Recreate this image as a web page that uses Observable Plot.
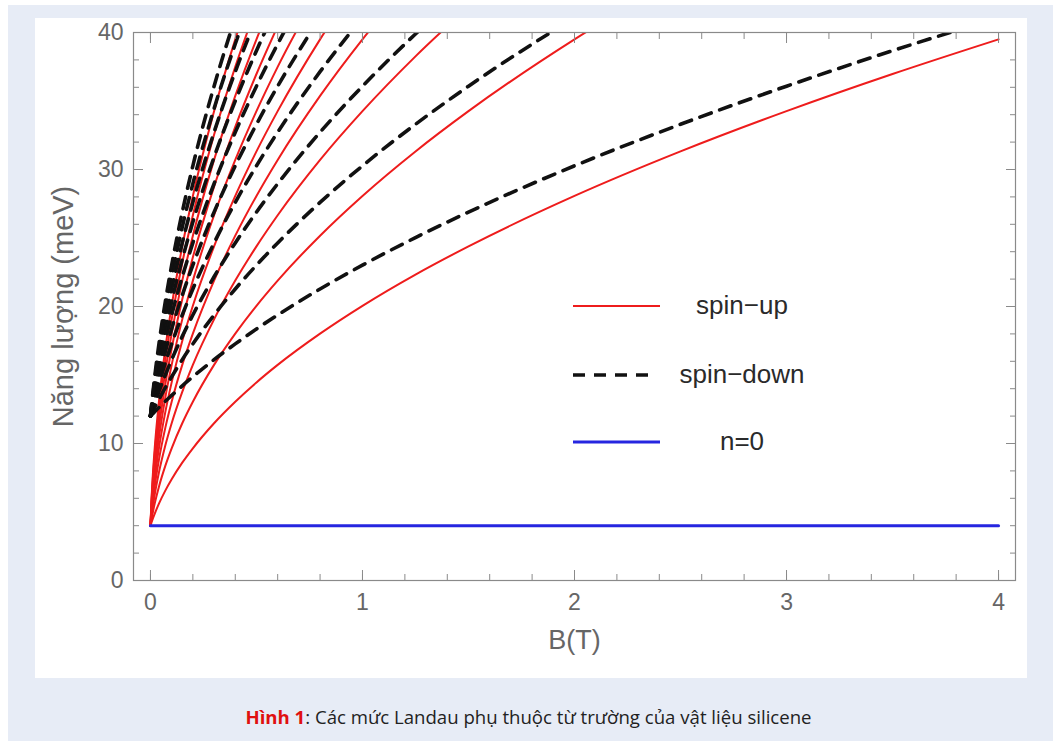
<!DOCTYPE html>
<html>
<head>
<meta charset="utf-8">
<script src="https://cdn.jsdelivr.net/npm/d3@7"></script>
<script src="https://cdn.jsdelivr.net/npm/@observablehq/plot@0.6"></script>
<style>
  html, body { margin: 0; padding: 0; }
  body { width: 1057px; height: 741px; position: relative; overflow: hidden; background: #fff; font-family: "Liberation Sans", Arial, sans-serif; }
  #bg { position: absolute; left: 8px; top: 5px; width: 1045px; height: 736px; background: #e7ecf6; }
  #panel { position: absolute; left: 35px; top: 18px; width: 992px; height: 660px; background: #fff; }
  #legend { position: absolute; left: 0; top: 0; pointer-events: none; }
  #caption { position: absolute; left: 0; top: 705px; width: 1057px; text-align: center; font-family: "Open Sans", sans-serif; font-size: 18.6px; color: #222; line-height: 24px; }
  #caption b { color: #e01010; }
</style>
</head>
<body>
<div id="bg"></div>
<div id="panel"></div>
<svg id="legend" width="1057" height="741"></svg>
<div id="caption"><b>Hình 1</b>: Các mức Landau phụ thuộc từ trường của vật liệu silicene</div>
<script>
// Magnetic field samples B (T)
const bField = [0, 0.005, 0.01, 0.02, 0.04, 0.07, 0.1, 0.15, 0.2, 0.3, 0.4, 0.5, 0.6, 0.8, 1.0, 1.25, 1.5, 2.0, 2.5, 3.0, 3.5, 4.0];

// Spin-up Landau levels n = 1..10 (meV), read at the bField samples
const up1  = [4.0, 4.23, 4.46, 4.87, 5.61, 6.56, 7.39, 8.60, 9.65, 11.48, 13.05, 14.46, 15.74, 18.02, 20.05, 22.33, 24.39, 28.07, 31.32, 34.26, 36.97, 39.50];
const up2  = [4.0, 4.46, 4.87, 5.61, 6.85, 8.37, 9.65, 11.48, 13.05, 15.74, 18.02, 20.05, 21.89, 25.17, 28.07, 31.32, 34.26, 39.50, 44.11];
const up3  = [4.0, 4.67, 5.25, 6.26, 7.89, 9.85, 11.48, 13.77, 15.74, 19.06, 21.89, 24.39, 26.66, 30.70, 34.26, 38.26, 41.87];
const up4  = [4.0, 4.87, 5.61, 6.85, 8.82, 11.14, 13.05, 15.74, 18.02, 21.89, 25.17, 28.07, 30.70, 35.37, 39.50, 44.11];
const up5  = [4.0, 5.06, 5.94, 7.39, 9.65, 12.29, 14.46, 17.48, 20.05, 24.39, 28.07, 31.32, 34.26, 39.50, 44.11];
const up6  = [4.0, 5.25, 6.26, 7.89, 10.42, 13.35, 15.74, 19.06, 21.89, 26.66, 30.70, 34.26, 37.49, 43.23];
const up7  = [4.0, 5.43, 6.56, 8.37, 11.14, 14.32, 16.92, 20.53, 23.59, 28.75, 33.12, 36.97, 40.46];
const up8  = [4.0, 5.61, 6.85, 8.82, 11.81, 15.24, 18.02, 21.89, 25.17, 30.70, 35.37, 39.50, 43.23];
const up9  = [4.0, 5.78, 7.12, 9.25, 12.45, 16.10, 19.06, 23.18, 26.66, 32.53, 37.49, 41.87];
const up10 = [4.0, 5.94, 7.39, 9.65, 13.05, 16.92, 20.05, 24.39, 28.07, 34.26, 39.50, 44.11];

// Spin-down Landau levels n = 1..10 (meV)
const down1  = [12.0, 12.08, 12.16, 12.32, 12.63, 13.08, 13.51, 14.21, 14.87, 16.12, 17.27, 18.36, 19.38, 21.28, 23.02, 25.03, 26.89, 30.27, 33.30, 36.08, 38.67, 41.09];
const down2  = [12.0, 12.16, 12.32, 12.63, 13.22, 14.07, 14.87, 16.12, 17.27, 19.38, 21.28, 23.02, 24.64, 27.60, 30.27, 33.30, 36.08, 41.09];
const down3  = [12.0, 12.24, 12.47, 12.93, 13.80, 15.00, 16.12, 17.82, 19.38, 22.17, 24.64, 26.89, 28.96, 32.72, 36.08, 39.89, 43.37];
const down4  = [12.0, 12.32, 12.63, 13.22, 14.34, 15.88, 17.27, 19.38, 21.28, 24.64, 27.60, 30.27, 32.72, 37.14, 41.09];
const down5  = [12.0, 12.40, 12.78, 13.51, 14.87, 16.71, 18.36, 20.82, 23.02, 26.89, 30.27, 33.30, 36.08, 41.09];
const down6  = [12.0, 12.47, 12.93, 13.80, 15.38, 17.50, 19.38, 22.17, 24.64, 28.96, 32.72, 36.08, 39.16, 44.69];
const down7  = [12.0, 12.55, 13.08, 14.07, 15.88, 18.25, 20.35, 23.44, 26.16, 30.90, 35.00, 38.67, 42.01];
const down8  = [12.0, 12.63, 13.22, 14.34, 16.36, 18.98, 21.28, 24.64, 27.60, 32.72, 37.14, 41.09];
const down9  = [12.0, 12.70, 13.37, 14.61, 16.82, 19.68, 22.17, 25.79, 28.96, 34.44, 39.16, 43.37];
const down10 = [12.0, 12.78, 13.51, 14.87, 17.27, 20.35, 23.02, 26.89, 30.27, 36.08, 41.09];

// n = 0 level
const n0Field  = [0, 4];
const n0Energy = [4, 4];

// Ticks
const majorX = [0, 1, 2, 3, 4];
const minorX = [0, 0.2, 0.4, 0.6, 0.8, 1, 1.2, 1.4, 1.6, 1.8, 2, 2.2, 2.4, 2.6, 2.8, 3, 3.2, 3.4, 3.6, 3.8, 4];
const majorY = [0, 10, 20, 30, 40];
const minorY = [0, 2, 4, 6, 8, 10, 12, 14, 16, 18, 20, 22, 24, 26, 28, 30, 32, 34, 36, 38, 40];

const xLabel = "B(T)";
const yLabel = "Năng lượng (meV)";
const legendLabels = ["spin−up", "spin−down", "n=0"];

const upSeries = [up1, up2, up3, up4, up5, up6, up7, up8, up9, up10];
const downSeries = [down1, down2, down3, down4, down5, down6, down7, down8, down9, down10];

function toRows(series) {
  const rows = [];
  series.forEach((vals, k) => vals.forEach((e, i) => rows.push({B: bField[i], E: e, n: k + 1})));
  return rows;
}
const upRows = toRows(upSeries);
const downRows = toRows(downSeries);
const n0Rows = n0Field.map((b, i) => ({B: b, E: n0Energy[i]}));

const tickColor = "#8a8a8a";
const labelColor = "#666";
const plain = d => String(d);

const chart = Plot.plot({
  width: 992,
  height: 660,
  marginLeft: 98,
  marginRight: 12,
  marginTop: 14,
  marginBottom: 98,
  x: {domain: [-0.08, 4.08]},
  y: {domain: [0, 40]},
  style: {fontFamily: "'Liberation Sans', Arial, sans-serif", background: "transparent", overflow: "visible"},
  marks: [
    Plot.line(upRows, {x: "B", y: "E", z: "n", stroke: "#ee1c1c", strokeWidth: 2, curve: "monotone-x", clip: true}),
    Plot.line(downRows, {x: "B", y: "E", z: "n", stroke: "#111", strokeWidth: 3.6, strokeDasharray: "12,9", curve: "monotone-x", clip: true}),
    Plot.line(n0Rows, {x: "B", y: "E", stroke: "#2626e0", strokeWidth: 3}),
    Plot.frame({stroke: tickColor, strokeWidth: 1.2}),
    // inward ticks on all four sides
    Plot.axisX({anchor: "bottom", ticks: minorX, tickSize: -6, tickFormat: () => "", label: null, color: tickColor}),
    Plot.axisX({anchor: "bottom", ticks: majorX, tickSize: -10, tickFormat: () => "", label: null, color: tickColor}),
    Plot.axisX({anchor: "top", ticks: minorX, tickSize: -6, tickFormat: () => "", label: null, color: tickColor}),
    Plot.axisX({anchor: "top", ticks: majorX, tickSize: -10, tickFormat: () => "", label: null, color: tickColor}),
    Plot.axisY({anchor: "left", ticks: minorY, tickSize: -6, tickFormat: () => "", label: null, color: tickColor}),
    Plot.axisY({anchor: "left", ticks: majorY, tickSize: -10, tickFormat: () => "", label: null, color: tickColor}),
    Plot.axisY({anchor: "right", ticks: minorY, tickSize: -6, tickFormat: () => "", label: null, color: tickColor}),
    Plot.axisY({anchor: "right", ticks: majorY, tickSize: -10, tickFormat: () => "", label: null, color: tickColor}),
    // tick labels
    Plot.axisX({anchor: "bottom", ticks: majorX, tickSize: 0, tickPadding: 13, fontSize: 23, tickFormat: plain, label: null, color: labelColor}),
    Plot.axisY({anchor: "left", ticks: majorY, tickSize: 0, tickPadding: 10, fontSize: 23, tickFormat: plain, label: null, color: labelColor}),
    // axis titles
    Plot.text([xLabel], {text: d => d, frameAnchor: "bottom", dy: 68, fontSize: 27, fill: labelColor}),
    Plot.text([yLabel], {text: d => d, frameAnchor: "left", textAnchor: "middle", rotate: -90, dx: -70, fontSize: 29, fill: labelColor})
  ]
});
chart.style.position = "absolute";
chart.style.left = "0px";
chart.style.top = "0px";
document.getElementById("panel").appendChild(chart);

// legend
const svg = d3.select("#legend");
const rowsY = [306, 375, 442];
const lineStyles = [
  {stroke: "#ee1c1c", width: 2, dash: null, x2: 660},
  {stroke: "#111", width: 3.6, dash: "12,9", x2: 651},
  {stroke: "#2626e0", width: 3, dash: null, x2: 660}
];
legendLabels.forEach((lab, i) => {
  const s = lineStyles[i];
  svg.append("line")
    .attr("x1", 573).attr("x2", s.x2).attr("y1", rowsY[i]).attr("y2", rowsY[i])
    .attr("stroke", s.stroke).attr("stroke-width", s.width)
    .attr("stroke-dasharray", s.dash);
  svg.append("text")
    .attr("x", 742).attr("y", rowsY[i]).attr("dy", "0.32em")
    .attr("text-anchor", "middle")
    .attr("font-family", "'Liberation Sans', Arial, sans-serif")
    .attr("font-size", 26).attr("fill", "#2a2a2a")
    .text(lab);
});
</script>
</body>
</html>
